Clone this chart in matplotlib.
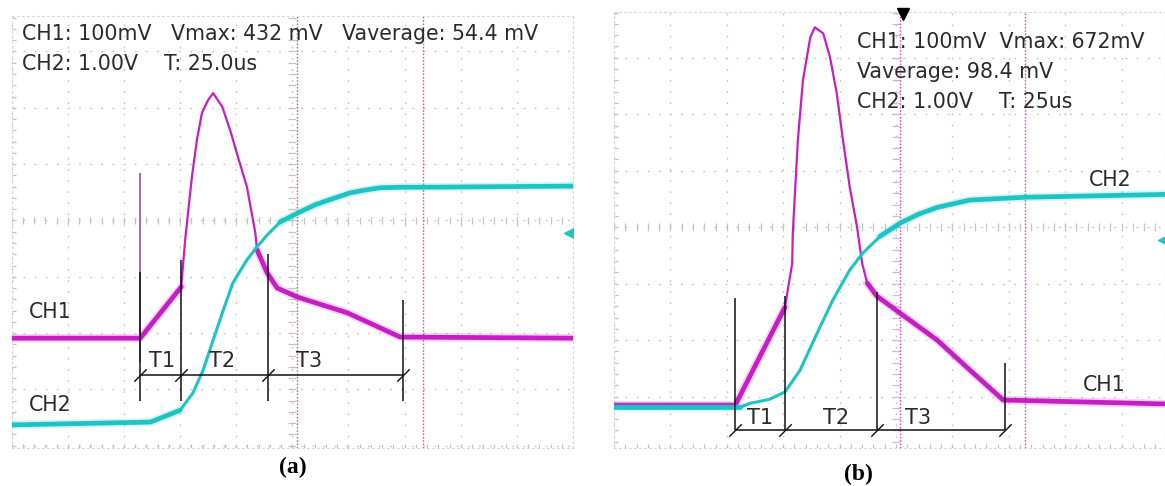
import numpy as np
import matplotlib.pyplot as plt

plt.rcParams['font.family'] = ['DejaVu Sans']

# screen units: time in divisions, level in divisions from screen centre
# ---- panel (a)
a_ch1_t = [0, 2.29, 3.02, 3.09, 3.21, 3.30, 3.39, 3.50, 3.59, 3.75, 3.89, 4.03, 4.19,
           4.34, 4.37, 4.55, 4.73, 5.09, 5.98, 6.92, 10.0]
a_ch1_v = [-2.09, -2.09, -1.18, -0.35, 0.77, 1.43, 1.91, 2.14, 2.26, 2.02, 1.61, 1.13, 0.60,
           -0.22, -0.52, -0.93, -1.20, -1.36, -1.64, -2.07, -2.09]
a_ch2_t = [0, 2.47, 3.00, 3.23, 3.41, 3.59, 3.77, 3.94, 4.19, 4.37, 4.55, 4.78, 5.09, 5.41,
           5.67, 6.03, 6.30, 6.56, 6.92, 7.33, 10.0]
a_ch2_v = [-3.63, -3.58, -3.37, -3.06, -2.66, -2.12, -1.59, -1.11, -0.70, -0.47, -0.26, -0.03,
           0.13, 0.28, 0.37, 0.49, 0.54, 0.58, 0.59, 0.59, 0.61]
a_cursors = [5.09, 7.33]
a_marks = [2.29, 3.02, 4.57, 6.97]
a_mark_top = [-0.91, -0.70, -0.60, -1.41]
a_mark_bottom = -3.2
a_bar = -2.74
a_label_t = [2.68, 3.75, 5.30]
a_header = ["CH1: 100mV   Vmax: 432 mV   Vaverage: 54.4 mV", "CH2: 1.00V    T: 25.0us"]

# ---- panel (b)
b_ch1_t = [0, 2.15, 3.03, 3.16, 3.17, 3.26, 3.35, 3.48, 3.56, 3.71, 3.83, 3.95, 4.06, 4.18,
           4.31, 4.40, 4.49, 4.66, 5.07, 5.73, 6.31, 6.90, 9.77]
b_ch1_v = [-3.15, -3.15, -1.42, -0.64, -0.11, 1.54, 2.60, 3.36, 3.54, 3.43, 3.01, 2.37, 1.54, 0.71,
           0.0, -0.64, -0.99, -1.22, -1.52, -2.00, -2.53, -3.06, -3.13]
b_ch2_t = [0, 2.23, 2.41, 2.75, 3.03, 3.30, 3.60, 3.88, 4.18, 4.41, 4.72, 5.07, 5.40, 5.73,
           6.31, 7.29, 9.77]
b_ch2_v = [-3.19, -3.19, -3.12, -3.05, -2.92, -2.53, -1.88, -1.29, -0.76, -0.46, -0.16, 0.07,
           0.23, 0.35, 0.48, 0.53, 0.58]
b_cursors = [5.07, 7.29]
b_marks = [2.15, 3.03, 4.66, 6.93]
b_mark_top = [-1.26, -1.22, -1.15, -2.41]
b_bar = -3.59
b_label_t = [2.59, 3.94, 5.39]
b_header = ["CH1: 100mV  Vmax: 672mV", "Vaverage: 98.4 mV", "CH2: 1.00V    T: 25us"]

MAG = '#c41ec4'
CYA = '#1cc4c4'
GRID = '#c4c4c4'
TXT = '#2b2b2b'
FS = 14.8


def scope_grid(ax, xmax, ymin, ymax):
    ax.set_xlim(0, xmax)
    ax.set_ylim(ymin, ymax)
    ax.set_xticks([])
    ax.set_yticks([])
    for s in ax.spines.values():
        s.set_color('#d8d8d8')
        s.set_linestyle((0, (1.5, 3)))
        s.set_linewidth(0.8)
    for x in range(0, 11):
        ax.axvline(x, color=GRID, lw=1.0, ls=(0, (1.2, 6.8)), zorder=1)
    for y in range(-4, 5):
        ax.axhline(y, color=GRID, lw=1.0, ls=(0, (1.2, 6.8)), zorder=1)
    small = np.arange(0, 10.01, 0.2)
    ax.vlines(small, -0.07, 0.07, color=GRID, lw=0.9, zorder=1)
    ax.vlines(small, ymin, ymin + 0.07, color=GRID, lw=0.9, zorder=1)
    rows = np.arange(-4, 4.01, 0.2)
    ax.hlines(rows, 0, 0.07, color=GRID, lw=0.9, zorder=1)
    ax.hlines(rows, 4.93, 5.07, color=GRID, lw=0.9, zorder=1)


def trace(ax, t, v, color, thin, slow):
    t = np.array(t)
    v = np.array(v)
    ax.plot(t, v, color=color, lw=thin, solid_joinstyle='round', zorder=3)
    for a, b in slow:
        ax.plot(t[a:b], v[a:b], color=color, lw=6, alpha=0.18, zorder=3)
        ax.plot(t[a:b], v[a:b], color=color, lw=3.4, solid_capstyle='round',
                solid_joinstyle='round', zorder=3)


def timing(ax, marks, tops, bottom, bar, label_t, label_y):
    ax.vlines(marks, bottom, tops, color='#111111', lw=1.1, zorder=5)
    ax.hlines(bar, marks[0], marks[-1], color='#111111', lw=1.1, zorder=5)
    ax.plot(marks, [bar] * len(marks), ls='none', marker=[(-1, -1), (1, 1)], ms=9,
            mec='#111111', mew=1.0, zorder=5)
    for i, x in enumerate(label_t):
        ax.text(x, label_y, 'T%d' % (i + 1), ha='center', va='bottom', fontsize=15,
                color=TXT, zorder=6)


fig = plt.figure(figsize=(11.65, 4.86), dpi=100)

# ---------------- (a)
ax = fig.add_axes([11.7 / 1165, 1 - 448 / 486, (573 - 11.7) / 1165, (448 - 16) / 486])
scope_grid(ax, 10, -4.04, 3.63)
for c in a_cursors:
    ax.axvline(c, color='#cc55cc', lw=1.0, ls=(0, (1.2, 1.2)), zorder=2)
ax.vlines(a_marks[0], -2.51, 0.84, color='#9a4f9a', lw=1.2, zorder=2)
trace(ax, a_ch1_t, a_ch1_v, MAG, 1.6, [(0, 3), (14, None)])
trace(ax, a_ch2_t, a_ch2_v, CYA, 2.2, [(0, 3), (11, None)])
timing(ax, a_marks, a_mark_top, a_mark_bottom, a_bar, a_label_t, a_bar + 0.06)
ax.plot(9.93, -0.22, marker='<', color=CYA, ms=7, zorder=4)
ax.text(0.18, 3.31, a_header[0], fontsize=FS, color=TXT, va='center', zorder=6)
ax.text(0.18, 2.78, a_header[1], fontsize=FS, color=TXT, va='center', zorder=6)
ax.text(0.68, -1.63, 'CH1', fontsize=FS, color=TXT, ha='center', va='center')
ax.text(0.68, -3.28, 'CH2', fontsize=FS, color=TXT, ha='center', va='center')

# ---------------- (b)
ax = fig.add_axes([614 / 1165, 1 - 448 / 486, (1165 - 614) / 1165, (448 - 12) / 486])
scope_grid(ax, 9.77, -3.91, 3.81)
for c in b_cursors:
    ax.axvline(c, color='#cc55cc', lw=1.0, ls=(0, (1.2, 1.2)), zorder=2)
trace(ax, b_ch1_t, b_ch1_v, MAG, 1.6, [(0, 3), (16, None)])
trace(ax, b_ch2_t, b_ch2_v, CYA, 2.2, [(0, 2), (10, None)])
timing(ax, b_marks, b_mark_top, b_bar, b_bar, b_label_t, b_bar + 0.04)
ax.plot(5.12, 3.77, marker='v', color='black', ms=9, zorder=6, clip_on=False)
ax.plot(9.74, -0.23, marker='<', color=CYA, ms=7, zorder=4)
for i, line in enumerate(b_header):
    ax.text(4.31, 3.27 - 0.53 * i, line, fontsize=FS, color=TXT, va='center', zorder=6)
ax.text(8.79, 0.83, 'CH2', fontsize=FS, color=TXT, ha='center', va='center')
ax.text(8.69, -2.80, 'CH1', fontsize=FS, color=TXT, ha='center', va='center')

fig.text(293 / 1165, 1 - 467 / 486, '(a)', family='Liberation Serif', fontweight='bold',
         fontsize=17, ha='center', va='center')
fig.text(858 / 1165, 1 - 474 / 486, '(b)', family='Liberation Serif', fontweight='bold',
         fontsize=17, ha='center', va='center')

fig.savefig('out.png', dpi=100, facecolor='white')
